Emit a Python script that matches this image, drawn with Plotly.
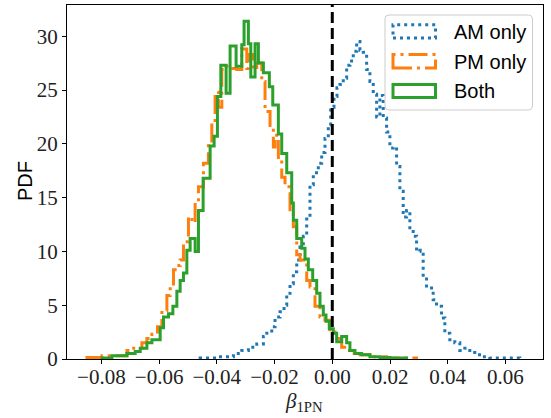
import numpy as np
import plotly.graph_objects as go

# ---------------- data (bin edges and PDF heights) ----------------
am_edges = [-0.04578, -0.04000, -0.03425, -0.03135, -0.02906, -0.02616, -0.02387, -0.02270,
            -0.02097, -0.01983, -0.01810, -0.01671, -0.01578, -0.01464, -0.01349, -0.01232,
            -0.01118, -0.01003, -0.00886, -0.00772, -0.00657, -0.00484, -0.00367, -0.00253,
            -0.00138, -0.00055, 0.00059, 0.00163, 0.00266, 0.00381, 0.00498, 0.00612,
            0.00727, 0.00844, 0.00958, 0.01073, 0.01190, 0.01304, 0.01419, 0.01536,
            0.01650, 0.01765, 0.01882, 0.01996, 0.02111, 0.02228, 0.02342, 0.02457,
            0.02574, 0.02688, 0.02803, 0.02920, 0.03034, 0.03149, 0.03266, 0.03380,
            0.03495, 0.03612, 0.03785, 0.03899, 0.04072, 0.04245, 0.04418, 0.04591,
            0.04764, 0.04937, 0.05169, 0.05456, 0.06494]
am_pdf = [0.1, 0.2, 0.5, 0.8, 1.1, 1.4, 2.1, 2.4, 3.0, 3.9,
          4.4, 5.0, 6.1, 7.0, 8.1, 9.2, 10.4, 11.4, 13.0, 16.2,
          17.3, 18.2, 19.2, 20.5, 21.7, 23.4, 24.4, 25.2, 25.5, 26.1,
          27.3, 27.7, 28.6, 29.5, 28.7, 28.5, 26.9, 25.8, 24.6, 22.5,
          24.5, 22.4, 21.1, 19.6, 19.7, 17.9, 15.6, 13.2, 13.8, 12.0,
          11.4, 10.0, 10.1, 7.6, 6.6, 6.6, 5.5, 4.9, 3.8, 2.4,
          1.8, 1.5, 0.8, 1.0, 0.6, 0.4, 0.2, 0.1]

pm_edges = [-0.08498, -0.07979, -0.07114, -0.07000, -0.06595, -0.06422, -0.06249, -0.06055,
            -0.05903, -0.05730, -0.05616, -0.05501, -0.05384, -0.05270, -0.05155, -0.04982,
            -0.04865, -0.04751, -0.04636, -0.04463, -0.04290, -0.04173, -0.04059, -0.03944,
            -0.03827, -0.03678, -0.03540, -0.03308, -0.03135, -0.02962, -0.02906, -0.02733,
            -0.02616, -0.02443, -0.02329, -0.02156, -0.02041, -0.01983, -0.01868, -0.01751,
            -0.01637, -0.01464, -0.01349, -0.01232, -0.01118, -0.00886, -0.00772, -0.00599,
            -0.00426, -0.00253, -0.00080, 0.00093, 0.00325, 0.00498, 0.00671, 0.00958,
            0.01304, 0.01882, 0.02920]
pm_pdf = [0.15, 0.3, 0.8, 1.0, 1.5, 1.9, 2.3, 3.0, 4.5, 5.9,
          6.7, 8.3, 8.7, 9.2, 10.9, 13.2, 12.7, 14.8, 16.0, 18.2,
          20.0, 21.9, 24.8, 23.4, 26.9, 27.2, 27.0, 26.9, 28.8, 27.0,
          28.3, 26.9, 27.5, 25.8, 23.0, 21.7, 19.7, 20.8, 18.3, 16.9,
          16.0, 13.5, 12.3, 9.7, 9.2, 7.3, 6.7, 4.9, 3.9, 3.6,
          2.5, 1.9, 1.1, 0.8, 0.5, 0.4, 0.2, 0.1]

both_edges = [-0.07979, -0.07633, -0.07114, -0.06827, -0.06654, -0.06422, -0.06249, -0.05962,
              -0.05847, -0.05674, -0.05522, -0.05384, -0.05270, -0.05155, -0.05038, -0.04924,
              -0.04751, -0.04636, -0.04474, -0.04232, -0.04093, -0.03979, -0.03861, -0.03678,
              -0.03540, -0.03332, -0.03135, -0.03055, -0.02906, -0.02823, -0.02675, -0.02560,
              -0.02387, -0.02180, -0.02062, -0.01868, -0.01751, -0.01578, -0.01405, -0.01349,
              -0.01232, -0.01059, -0.00945, -0.00830, -0.00678, -0.00540, -0.00426, -0.00311,
              -0.00218, -0.00104, 0.00035, 0.00152, 0.00325, 0.00498, 0.00612, 0.00785,
              0.01017, 0.01304, 0.01650, 0.01996, 0.02574]
both_pdf = [0.1, 0.3, 0.5, 0.7, 1.0, 1.5, 1.8, 2.9, 3.9, 4.2,
            4.9, 6.3, 7.3, 8.0, 10.1, 11.2, 10.0, 13.8, 16.8, 19.8,
            20.7, 24.4, 27.3, 24.7, 29.1, 27.2, 29.2, 31.4, 29.3, 26.2,
            29.3, 27.5, 26.6, 25.3, 23.6, 20.9, 19.1, 17.3, 14.5, 12.9,
            11.2, 10.3, 9.3, 8.3, 7.3, 6.1, 4.9, 4.1, 3.5, 2.8,
            2.4, 1.6, 2.1, 1.5, 0.8, 0.5, 0.4, 0.2, 0.15, 0.1]

series_names = ["AM only", "PM only", "Both"]
reference_beta = 0.0

x_tick_vals = [-0.08, -0.06, -0.04, -0.02, 0.00, 0.02, 0.04, 0.06]
x_tick_text = ["\u22120.08", "\u22120.06", "\u22120.04", "\u22120.02", "0.00", "0.02", "0.04", "0.06"]
y_tick_vals = [0, 5, 10, 15, 20, 25, 30]
y_tick_text = ["0", "5", "10", "15", "20", "25", "30"]

# ---------------- styling ----------------
W, H = 551, 418
L, R, T, B = 67, 8, 5, 59
PW, PH = W - L - R, H - T - B

BLUE, ORANGE, GREEN = "#1f77b4", "#ff7f0e", "#2ca02c"
LW = 3
DOT = "3px,4px"
DASHDOT = "19px,5px,3px,5px"
SERIF = "Liberation Serif"
SANS = "Liberation Sans"


def step_xy(edges, heights):
    e = np.asarray(edges, dtype=float)
    h = np.asarray(heights, dtype=float)
    x = np.repeat(e, 2)
    y = np.concatenate([[0.0], np.repeat(h, 2), [0.0]])
    return x, y


def px(xp):
    return (xp - L) / PW


def py(yp):
    return (T + PH - yp) / PH


fig = go.Figure()
styles = [(BLUE, DOT), (ORANGE, DASHDOT), (GREEN, "solid")]
for (edges, pdf), name, (col, dash) in zip(
        [(am_edges, am_pdf), (pm_edges, pm_pdf), (both_edges, both_pdf)], series_names, styles):
    sx, sy = step_xy(edges, pdf)
    fig.add_trace(go.Scatter(x=sx, y=sy, mode="lines", name=name, showlegend=False,
                             line=dict(color=col, width=LW, dash=dash), hoverinfo="skip"))

shapes = []
# vertical reference line
shapes.append(dict(type="line", xref="x", yref="paper", x0=reference_beta, x1=reference_beta,
                   y0=0, y1=1, line=dict(color="black", width=3, dash="11px,5px"), layer="above"))

# legend box (rounded)
bx0, bx1, by0, by1 = px(385), px(532.5), py(110), py(15)
rx, ry = 4 / PW, 4 / PH
path = (f"M {bx0+rx},{by0} L {bx1-rx},{by0} Q {bx1},{by0} {bx1},{by0+ry} "
        f"L {bx1},{by1-ry} Q {bx1},{by1} {bx1-rx},{by1} L {bx0+rx},{by1} "
        f"Q {bx0},{by1} {bx0},{by1-ry} L {bx0},{by0+ry} Q {bx0},{by0} {bx0+rx},{by0} Z")
shapes.append(dict(type="path", xref="paper", yref="paper", path=path,
                   fillcolor="rgba(255,255,255,0.8)", line=dict(color="#cccccc", width=1), layer="above"))

annotations = []
patch_rows = [(24.8, 38), (54.5, 68), (84.5, 97.5)]
text_y = [32, 62, 91]
for (ty, by), name, (col, dash), tyc in zip(patch_rows, series_names, styles, text_y):
    shapes.append(dict(type="rect", xref="paper", yref="paper",
                       x0=px(393), x1=px(435.5), y0=py(by), y1=py(ty),
                       line=dict(color=col, width=LW, dash=dash), fillcolor="rgba(0,0,0,0)",
                       layer="above"))
    annotations.append(dict(xref="paper", yref="paper", x=px(452), y=py(tyc), text=name,
                            showarrow=False, xanchor="left", yanchor="middle",
                            font=dict(family=SANS, size=20, color="black")))

# axis titles
annotations.append(dict(xref="paper", yref="paper", x=px(25), y=py(181), text="PDF", textangle=-90,
                        showarrow=False, xanchor="center", yanchor="middle",
                        font=dict(family=SANS, size=20, color="black")))
annotations.append(dict(xref="paper", yref="paper", x=px(304), y=py(402),
                        text="<i>\u03b2</i><sub>1PN</sub>",
                        showarrow=False, xanchor="center", yanchor="middle",
                        font=dict(family=SERIF, size=21, color="#222222")))

axis_common = dict(showgrid=False, zeroline=False, showline=True, linecolor="black", linewidth=1,
                   mirror=True, ticks="outside", ticklen=4, tickwidth=1, tickcolor="black",
                   tickfont=dict(family=SERIF, size=21, color="#222222"))

fig.update_layout(
    width=W, height=H, margin=dict(l=L, r=R, t=T, b=B, autoexpand=False),
    paper_bgcolor="white", plot_bgcolor="white", showlegend=False,
    xaxis=dict(range=[-0.0919, 0.0730], tickvals=x_tick_vals, ticktext=x_tick_text,
               ticklabelstandoff=-5, **axis_common),
    yaxis=dict(range=[0, 32.9], tickvals=y_tick_vals, ticktext=y_tick_text, **axis_common),
    shapes=shapes, annotations=annotations,
)

fig.write_html("out.html", config={"displayModeBar": False},
               post_script="document.body.style.margin='0';document.body.style.overflow='hidden';")
